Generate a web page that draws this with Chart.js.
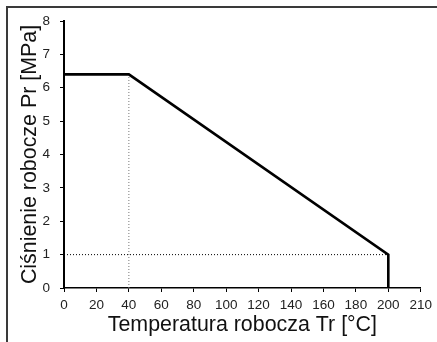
<!DOCTYPE html>
<html>
<head>
<meta charset="utf-8">
<script src="https://cdn.jsdelivr.net/npm/chart.js@4.4.0/dist/chart.umd.min.js"></script>
<style>
  html, body { margin: 0; padding: 0; background: #fff; }
  #box { position: absolute; left: 0; top: 0; width: 437px; height: 342px; }
</style>
</head>
<body>
<div id="box"><canvas id="prChart" width="437" height="342"></canvas></div>
<script>
// Working pressure vs working temperature
const tempValues = [0, 40, 200, 200];
const pressureValues = [6.4, 6.4, 1, 0];

// helper lines: 40 °C drop and 1 MPa level
const guideTempX = [40, 40];
const guidePressX = [0, 6.4];
const guideLevelX = [0, 200];
const guideLevelY = [1, 1];

const xTickLabels = ["0", "20", "40", "60", "80", "100", "120", "140", "160", "180", "200", "210"];

function toPoints(xs, ys) {
  return xs.map((x, i) => ({ x: x, y: ys[i] }));
}

const fontName = "'Liberation Sans', Arial, sans-serif";

// outer frame (left and top edges)
const framePlugin = {
  id: "frame",
  beforeDraw(chart) {
    const c = chart.ctx;
    c.save();
    c.strokeStyle = "#3a3a3a";
    c.lineWidth = 2;
    c.beginPath();
    c.moveTo(7, 342);
    c.lineTo(7, 7);
    c.lineTo(437, 7);
    c.stroke();
    c.restore();
  },
};

const ctx = document.getElementById("prChart").getContext("2d");

new Chart(ctx, {
  type: "line",
  data: {
    datasets: [
      {
        data: toPoints(tempValues, pressureValues),
        borderColor: "#000",
        borderWidth: 2.6,
        pointRadius: 0,
        tension: 0,
        clip: false,
        order: 0,
      },
      {
        data: toPoints(guideTempX, guidePressX),
        borderColor: "#777",
        borderWidth: 1,
        borderDash: [1, 2],
        pointRadius: 0,
        order: 1,
      },
      {
        data: toPoints(guideLevelX, guideLevelY),
        borderColor: "#000",
        borderWidth: 1,
        borderDash: [1, 2],
        pointRadius: 0,
        order: 1,
      },
    ],
  },
  options: {
    responsive: false,
    animation: false,
    events: [],
    layout: { padding: { left: 0, top: 21, right: 9, bottom: 0 } },
    plugins: {
      legend: { display: false },
      tooltip: { enabled: false },
    },
    scales: {
      x: {
        type: "linear",
        min: 0,
        max: 220,
        afterFit: (scale) => { scale.height = 54; },
        afterBuildTicks: (scale) => {
          scale.ticks = xTickLabels.map((t, i) => ({ value: i * 20 }));
        },
        ticks: {
          stepSize: 20,
          autoSkip: false,
          maxRotation: 0,
          padding: 5,
          color: "#222",
          font: { family: fontName, size: 13.5 },
          callback: (value, index) => xTickLabels[index],
        },
        grid: { drawOnChartArea: false, drawTicks: true, tickLength: 4, tickColor: "#000", tickWidth: 1 },
        border: { display: true, color: "#000", width: 1.5 },
        title: {
          display: true,
          text: "Temperatura robocza Tr [°C]",
          color: "#111",
          font: { family: fontName, size: 21.4, lineHeight: 1 },
          padding: { top: 0, bottom: 6 },
        },
      },
      y: {
        min: 0,
        max: 8,
        afterFit: (scale) => { scale.width = 64; },
        ticks: {
          stepSize: 1,
          padding: 10,
          color: "#222",
          font: { family: fontName, size: 13.5 },
        },
        grid: { drawOnChartArea: false, drawTicks: true, tickLength: 4, tickColor: "#000", tickWidth: 1 },
        border: { display: true, color: "#000", width: 2 },
        title: {
          display: true,
          text: "Ciśnienie robocze Pr [MPa]",
          color: "#111",
          font: { family: fontName, size: 21.4, lineHeight: 1 },
          padding: { top: 19, bottom: 0 },
        },
      },
    },
  },
  plugins: [framePlugin],
});
</script>
</body>
</html>
